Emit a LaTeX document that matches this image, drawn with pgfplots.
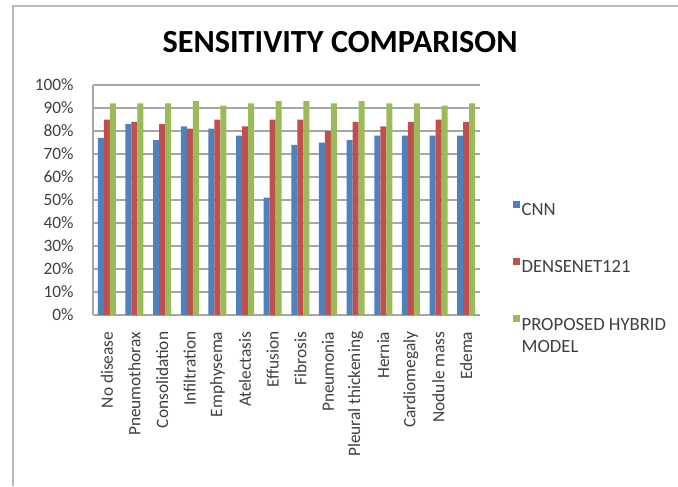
\documentclass[border=0pt]{standalone}
\usepackage{fontspec}
\setmainfont{Carlito}
\usepackage{pgfplots}
\pgfplotsset{compat=1.18}
\definecolor{cnn}{HTML}{4F81BD}
\definecolor{dense}{HTML}{C0504D}
\definecolor{hyb}{HTML}{9BBB59}
\definecolor{txt}{HTML}{404040}
\definecolor{gridc}{HTML}{A6A6A6}
\begin{document}
\begin{tikzpicture}
\useasboundingbox (0,0) rectangle (508.5pt,364.5pt);
\fill[white] (0,0) rectangle (508.5pt,364.5pt);
\draw[gray!55, line width=1.4pt] (9.75pt,0pt) -- (9.75pt,360pt) -- (508.5pt,360pt);
\node[font=\fontsize{24.2}{28}\selectfont\bfseries, text=black] at (255pt,333pt) {SENSITIVITY COMPARISON};
\begin{axis}[
  at={(69.75pt,128.25pt)}, anchor=south west,
  scale only axis, width=290.25pt, height=172.5pt,
  ybar=0pt, bar width=4.5pt,
  xmin=-0.5, xmax=13.5, ymin=0, ymax=100,
  xtick=data,
  xticklabels={No disease,Pneumothorax,Consolidation,Infiltration,Emphysema,Atelectasis,Effusion,Fibrosis,Pneumonia,Pleural thickening,Hernia,Cardiomegaly,Nodule mass,Edema},
  ytick={0,10,...,100},
  yticklabel={\pgfmathprintnumber{\tick}\%},
  /pgf/number format/assume math mode=true,
  major tick length=0pt,
  ymajorgrids, grid style={gridc, line width=0.9pt},
  axis line style={gridc, line width=0.9pt},
  axis x line*=bottom, axis y line*=left,
  tick label style={font=\fontsize{13}{15}\selectfont, text=txt},
  yticklabel style={xshift=-11pt},
  xticklabel style={rotate=90, anchor=east, xshift=-9pt},
  legend style={at={(1.075,0.507)}, anchor=north west, draw=none, fill=none,
    font=\fontsize{14}{16.5}\selectfont, text=txt, row sep=29pt,
    nodes={inner sep=1pt}},
  legend cell align=left,
  legend image code/.code={\fill[#1] (0pt,1.8pt) rectangle (5.25pt,7.05pt);},
  ]
\addplot[fill=cnn, draw=none] coordinates {(0,77) (1,83) (2,76) (3,82) (4,81) (5,78) (6,51) (7,74) (8,75) (9,76) (10,78) (11,78) (12,78) (13,78)};
\addplot[fill=dense, draw=none] coordinates {(0,85) (1,84) (2,83) (3,81) (4,85) (5,82) (6,85) (7,85) (8,80) (9,84) (10,82) (11,84) (12,85) (13,84)};
\addplot[fill=hyb, draw=none] coordinates {(0,92) (1,92) (2,92) (3,93) (4,91) (5,92) (6,93) (7,93) (8,92) (9,93) (10,92) (11,92) (12,91) (13,92)};
\legend{CNN,DENSENET121,{\begin{tabular}[t]{@{}l@{}}PROPOSED HYBRID\\MODEL\end{tabular}}}
\draw[gridc, line width=0.9pt] (rel axis cs:0,1) -- (rel axis cs:1,1);
\end{axis}
\end{tikzpicture}
\end{document}
